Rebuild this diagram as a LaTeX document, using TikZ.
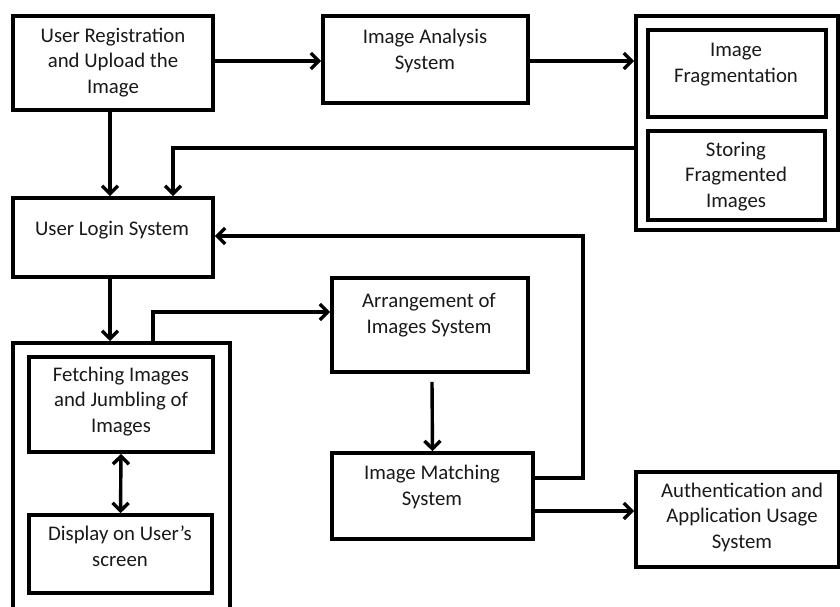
\documentclass[tikz,border=0pt]{standalone}
\usepackage{fontspec}
\setmainfont{Carlito}
\usetikzlibrary{arrows.meta,calc}
\begin{document}
\begin{tikzpicture}[x=1pt,y=-1pt,
  box/.style={draw=black,line width=3.6pt,rectangle,inner sep=0pt},
  txt/.style={align=center,inner sep=0pt,anchor=base,text=black!90,
     font=\fontsize{20.8}{25.5}\selectfont},
  arr/.style={line width=3.4pt,-{Straight Barb[length=8pt,width=16pt]}},
  darr/.style={line width=3.4pt,{Straight Barb[length=8pt,width=16pt]}-{Straight Barb[length=8pt,width=16pt]}}]
\useasboundingbox (0,0) rectangle (840,606);
\fill[white] (0,0) rectangle (840,606);
% boxes
\node[box,minimum width=200pt,minimum height=94pt] (A) at (113,63) {};
\node[box,minimum width=205pt,minimum height=87pt] (B) at (425.5,59.5) {};
\node[box,minimum width=202pt,minimum height=214pt] (C) at (737,123) {};
\node[box,minimum width=178pt,minimum height=87pt] (C1) at (737,73.5) {};
\node[box,minimum width=177pt,minimum height=89pt] (C2) at (736.5,175.5) {};
\node[box,minimum width=200pt,minimum height=79pt] (D) at (113,237.5) {};
\node[box,minimum width=217pt,minimum height=277pt] (E) at (121.5,481.5) {};
\node[box,minimum width=184pt,minimum height=95pt] (E1) at (121,404.5) {};
\node[box,minimum width=183pt,minimum height=78pt] (E2) at (120.5,554) {};
\node[box,minimum width=196pt,minimum height=94pt] (F) at (430,325) {};
\node[box,minimum width=201pt,minimum height=86pt] (G) at (432.5,496) {};
\node[box,minimum width=203pt,minimum height=95pt] (H) at (737.5,519.5) {};
% texts (anchored at the baseline of the last line)
\node[txt] (tA) at (113,93) {User Registration\\and Upload the\\Image};
\node[txt] (tB) at (425,69) {Image Analysis\\System};
\node[txt] (tC1) at (736,82) {Image\\Fragmentation};
\node[txt] (tC2) at (736,207) {Storing\\Fragmented\\Images};
\node[txt] (tD) at (112,235) {User Login System};
\node[txt] (tE1) at (121,432) {Fetching Images\\and Jumbling of\\Images};
\node[txt] (tE2) at (120,566) {Display on User’s\\screen};
\node[txt] (tF) at (429,333) {Arrangement of\\Images System};
\node[txt] (tG) at (432,505) {Image Matching\\System};
\node[txt] (tH) at (742,548) {Authentication and\\Application Usage\\System};
% connectors
\draw[arr] (A.east |- 0,61) -- (B.west |- 0,61);
\draw[arr] (B.east |- 0,61) -- (C.west |- 0,61);
\draw[arr] (C.west |- 0,148) -| ($(D.north)+(60,0)$);
\draw[arr] ($(A.south)+(-3,0)$) -- ($(D.north)+(-3,0)$);
\draw[arr] (G.east |- 0,478) -| (583,236) -- (D.east |- 0,236);
\draw[arr] ($(D.south)+(-3,0)$) -- ($(E.north)+(-11.5,0)$);
\draw[arr] ($(E.north)+(31.5,0)$) |- (F.west |- 0,312);
\draw[darr] (E1.south) -- (E2.north);
\draw[arr] ($(F.south)+(2,8)$) -- (G.north);
\draw[arr] (G.east |- 0,511) -- (H.west |- 0,511);
\end{tikzpicture}
\end{document}
